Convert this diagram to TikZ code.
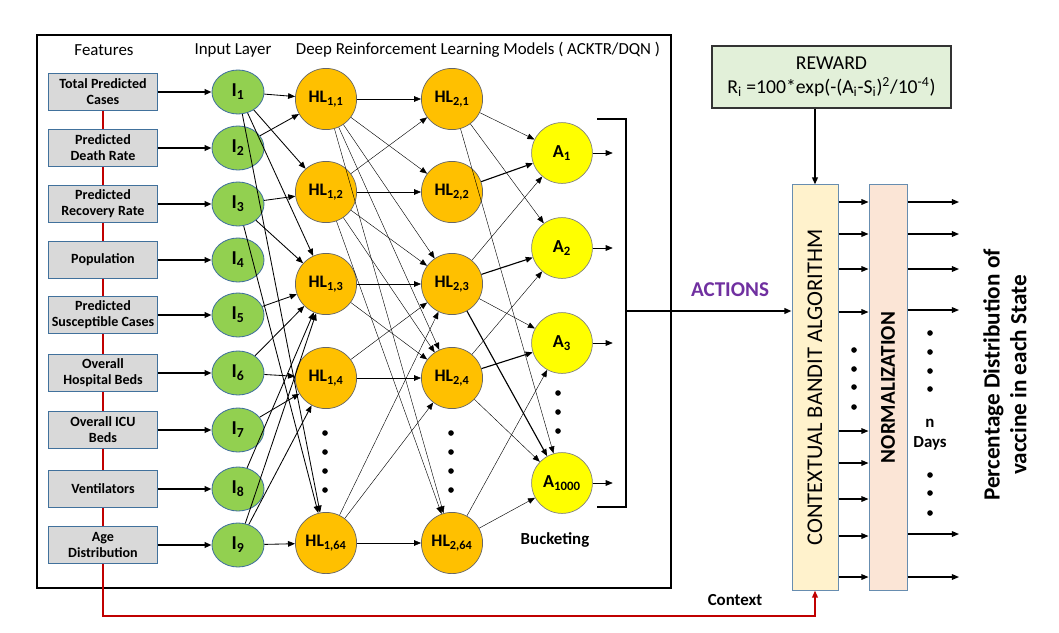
\documentclass[tikz,border=0pt]{standalone}
\usepackage{fontspec}
\setmainfont{Carlito}
\usetikzlibrary{arrows.meta, shapes.geometric, positioning, calc}
\definecolor{featfill}{HTML}{D9D9D9}
\definecolor{boxline}{HTML}{41719C}
\definecolor{inpfill}{HTML}{92D050}
\definecolor{hidfill}{HTML}{FFC000}
\definecolor{actfill}{HTML}{FFFF00}
\definecolor{rewfill}{HTML}{E2F0D9}
\definecolor{cbfill}{HTML}{FFF2CC}
\definecolor{normfill}{HTML}{FBE5D6}
\definecolor{ctxred}{HTML}{C00000}
\definecolor{actpurple}{HTML}{7030A0}

\begin{document}
\begin{tikzpicture}[
    x=0.025cm, y=-0.025cm,
    >={Triangle[length=5pt, width=4pt]},
    font=\fontsize{12}{14}\selectfont,
    feat/.style={rectangle, fill=featfill, draw=boxline, line width=0.7pt,
                 minimum width=2.7cm, minimum height=0.925cm, inner sep=1pt,
                 align=center, font=\fontsize{10}{11.5}\selectfont\bfseries},
    inp/.style={ellipse, fill=inpfill, draw=boxline, line width=0.6pt,
                minimum width=1.3cm, minimum height=1.1cm, inner sep=0pt,
                font=\fontsize{14}{15}\selectfont\bfseries},
    hid/.style={circle, fill=hidfill, draw=black!60, line width=0.5pt,
                minimum size=1.53cm, inner sep=0pt,
                font=\fontsize{12.5}{13}\selectfont\bfseries},
    act/.style={circle, fill=actfill, draw=black!50, line width=0.5pt,
                minimum size=1.52cm, inner sep=0pt,
                font=\fontsize{13}{14}\selectfont\bfseries},
    featarrow/.style={->, line width=1.3pt},
    inedge/.style={->, line width=0.6pt},
    hedge/.style={->, line width=0.3pt},
    aedge/.style={->, line width=0.3pt},
    boldedge/.style={->, line width=0.8pt},
    outarrow/.style={->, line width=0.8pt},
    tallbox/.style={rectangle, draw=boxline!80, line width=0.7pt,
                    minimum width=1.15cm, minimum height=10.125cm},
    vlabel/.style={rotate=90, font=\fontsize{16}{18}\selectfont},
    dot/.style={fill=black},
]

\useasboundingbox (0,0) rectangle (1059,632);

% ── headers ──
\node at (104,50) {Features};
\node at (233,50) {Input Layer};
\node at (478,50) {Deep Reinforcement Learning Models ( ACKTR/DQN )};

% ── features and input layer ──
\foreach \i/\y/\txt in {1/92/{Total Predicted\\Cases}, 2/148/{Predicted\\Death Rate},
                        3/204/{Predicted\\Recovery Rate}, 4/260/{Population},
                        5/315/{Predicted\\Susceptible Cases}, 6/373/{Overall\\Hospital Beds},
                        7/430/{Overall ICU\\Beds}, 8/489/{Ventilators},
                        9/545/{Age\\Distribution}} {
    \node[feat] (f\i) at (103,\y) {\txt};
    \node[inp] (i\i) at (238,\y) {I\textsubscript{\i}};
    \draw[featarrow] (f\i) -- (i\i);
}
\foreach \a/\b in {1/2, 2/3, 3/4, 4/5, 5/6, 6/7, 7/8, 8/9}
    \draw[ctxred, line width=1.2pt] (f\a.south) -- (f\b.north);

% ── hidden layers ──
\foreach \k/\y in {1/99, 2/192, 3/284, 4/378, 64/543} {
    \node[hid] (h1-\k) at (326,\y) {HL\textsubscript{1,\k}};
    \node[hid] (h2-\k) at (452,\y) {HL\textsubscript{2,\k}};
}

% ── action nodes ──
\foreach \k/\y in {1/153, 2/248, 3/343, 1000/483} {
    \node[act] (a\k) at (562,\y) {A\textsubscript{\k}};
    \draw[->, line width=0.4pt] (a\k.east) -- ++(20,0);
}

% input -> HL1
\foreach \a/\b in {1/1, 1/2, 1/3, 1/64, 2/1, 3/2, 3/3, 3/64, 5/3, 6/3, 6/4,
                   7/4, 8/3, 9/3, 9/4, 9/64}
    \draw[inedge] (i\a) -- (h1-\b);

% HL1 -> HL2
\foreach \a/\b in {1/1, 1/2, 1/3, 1/4, 1/64, 2/1, 2/2, 2/3, 2/4, 2/64,
                   3/3, 3/4, 4/3, 4/4, 64/3, 64/4, 64/64}
    \draw[hedge] (h1-\a) -- (h2-\b);

% HL2 -> actions
\foreach \a/\b in {1/1, 1/2, 1/1000, 3/1, 3/3, 4/2, 4/1000, 64/3, 64/1000}
    \draw[aedge] (h2-\a) -- (a\b);
\foreach \a/\b in {2/1, 3/2, 3/1000, 4/3}
    \draw[boldedge] (h2-\a) -- (a\b);

% dots
\foreach \y in {433, 452, 471, 490} {
    \fill[dot] (325,\y) circle (2pt);
    \fill[dot] (451,\y) circle (2pt);
}
\foreach \y in {393, 412, 431}
    \fill[dot] (558,\y) circle (2pt);

\node[font=\fontsize{12}{14}\selectfont\bfseries] at (555,540) {Bucketing};

% ── frame ──
\draw[line width=2pt] (37,35) rectangle (671,588);

% ── bracket and actions ──
\draw[line width=1.2pt] (597,119) -- (626,119) -- (626,507) -- (597,507);
\coordinate (bk) at (626,311);

% ── reward, bandit, normalization ──
\node[rectangle, fill=rewfill, draw=black!80, line width=1.2pt,
      minimum width=5.975cm, minimum height=1.55cm, align=center,
      font=\fontsize{14}{17}\selectfont] (rw) at (831.5,77)
    {REWARD\\R\textsubscript{i} =100*exp(-(A\textsubscript{i}-S\textsubscript{i})\textsuperscript{2}/10\textsuperscript{-4})};
\node[tallbox, fill=cbfill] (cb) at (815,387.5) {};
\node[vlabel] at (cb) {CONTEXTUAL BANDIT ALGORITHM};
\node[tallbox, fill=normfill, minimum width=0.95cm] (nm) at (888,387.5) {};
\node[vlabel, font=\fontsize{15}{17}\selectfont\bfseries] at (nm) {NORMALIZATION};

\draw[outarrow, line width=1.2pt] (rw.south -| cb.north) -- (cb.north);
\draw[outarrow, line width=1.2pt] (bk) -- (cb.west |- bk);
\node[font=\fontsize{15}{17}\selectfont\bfseries, text=actpurple] at (730,290) {ACTIONS};

\foreach \y in {202, 234, 269, 312, 431, 463, 499, 536, 577}
    \draw[outarrow] (cb.east |- 0,\y) -- (nm.west |- 0,\y);
\foreach \y in {202, 234, 269, 310, 534, 577}
    \draw[outarrow] (nm.east |- 0,\y) -- (959,\y);
\foreach \y in {350, 369, 387, 407}
    \fill[dot] (854,\y) circle (2pt);
\foreach \y in {333, 352, 371, 389, 475, 493, 513}
    \fill[dot] (930,\y) circle (2pt);
\node[font=\fontsize{12}{14}\selectfont\bfseries, align=center] at (930,435) {n\\Days};

\node[vlabel, font=\fontsize{16.5}{19}\selectfont\bfseries, align=center] at (1005,375)
    {Percentage Distribution of\\vaccine in each State};

% ── context ──
\coordinate (ctx) at (460,616);
\draw[ctxred, line width=1.2pt, ->] (f9.south) |- (ctx) -| (cb.south);
\node[font=\fontsize{12}{14}\selectfont\bfseries] at (735,600) {Context};

\end{tikzpicture}
\end{document}
